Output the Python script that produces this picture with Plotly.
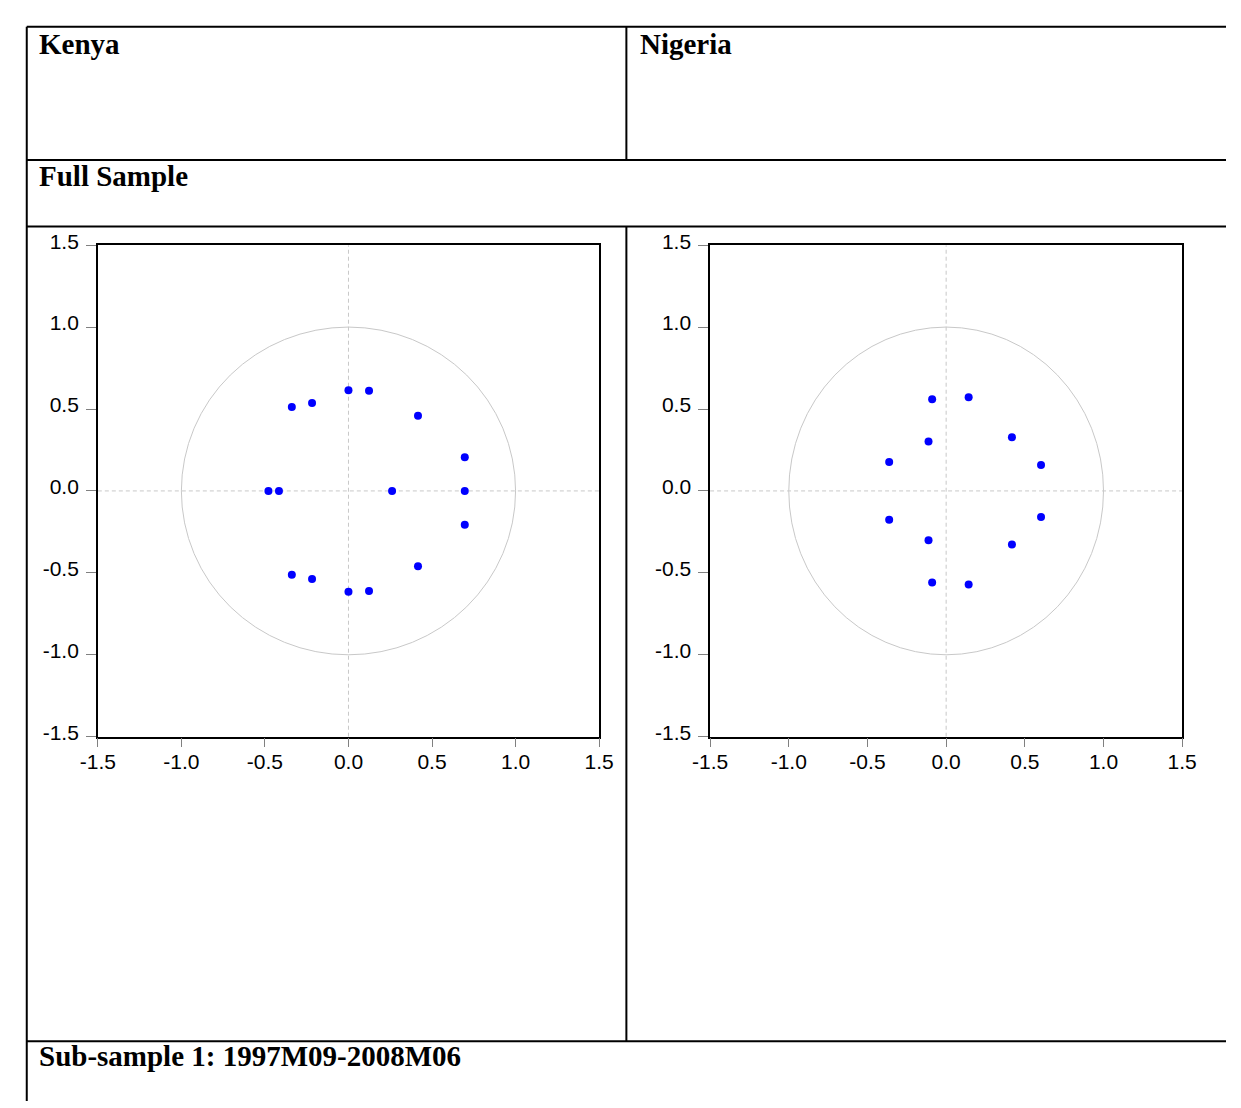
import plotly.graph_objects as go

# ---- data (inverse roots of AR characteristic polynomial) ----
kenya_real = [0.0, 0.0, 0.123, 0.123, -0.339, -0.339, -0.218, -0.218,
              0.416, 0.416, 0.696, 0.696, -0.479, -0.416, 0.261, 0.696]
kenya_imag = [0.615, -0.615, 0.611, -0.611, 0.512, -0.512, 0.537, -0.537,
              0.459, -0.459, 0.206, -0.206, 0.0, 0.0, 0.0, 0.0]

nigeria_real = [-0.089, -0.089, 0.143, 0.143, -0.112, -0.112,
                0.418, 0.418, -0.362, -0.362, 0.603, 0.603]
nigeria_imag = [0.559, -0.559, 0.571, -0.571, 0.301, -0.301,
                0.327, -0.327, 0.176, -0.176, 0.159, -0.159]

tick_vals = [-1.5, -1.0, -0.5, 0.0, 0.5, 1.0, 1.5]
tick_labels = ["-1.5", "-1.0", "-0.5", "0.0", "0.5", "1.0", "1.5"]
axis_range = [-1.5, 1.5]
unit_radius = 1.0

panel_titles = ["Kenya", "Nigeria"]
row_titles = ["Full Sample", "Sub-sample 1: 1997M09-2008M06"]

# ---- layout geometry (window pixels) ----
W, H = 1241, 1108
def px_x(v):
    return v / W
def px_y(v):
    return 1 - v / H

fig = go.Figure()

panels = [
    (kenya_real, kenya_imag, "x", "y", (82, 597)),
    (nigeria_real, nigeria_imag, "x2", "y2", (711, 1196)),
]

grey = "#c8c8c8"
for re, im, xa, ya, _ in panels:
    fig.add_trace(go.Scatter(x=axis_range, y=[0, 0], mode="lines",
                             line=dict(color=grey, width=1, dash="4px,3px"),
                             hoverinfo="skip", showlegend=False, xaxis=xa, yaxis=ya))
    fig.add_trace(go.Scatter(x=[0, 0], y=axis_range, mode="lines",
                             line=dict(color=grey, width=1, dash="4px,3px"),
                             hoverinfo="skip", showlegend=False, xaxis=xa, yaxis=ya))
    fig.add_shape(type="circle", xref=xa, yref=ya,
                  x0=-unit_radius, x1=unit_radius, y0=-unit_radius, y1=unit_radius,
                  line=dict(color=grey, width=1), layer="below")
    fig.add_trace(go.Scatter(x=re, y=im, mode="markers",
                             marker=dict(color="#0000ff", size=8),
                             showlegend=False, xaxis=xa, yaxis=ya))

axis_common = dict(
    range=axis_range, tickvals=tick_vals, ticktext=tick_labels,
    showline=True, mirror=True, linecolor="black", linewidth=1.5,
    showgrid=False, zeroline=False, ticks="outside", tickcolor="#808080",
    tickfont=dict(family="Liberation Sans, Arial", size=21, color="black"),
)

y0, y1 = px_y(736), px_y(234)
layout_axes = {}
for i, (_, _, xa, ya, (l, r)) in enumerate(panels):
    xname = "xaxis" if i == 0 else "xaxis2"
    yname = "yaxis" if i == 0 else "yaxis2"
    layout_axes[xname] = dict(axis_common, domain=[px_x(l), px_x(r)],
                              anchor=ya, ticklen=9, ticklabelstandoff=-4)
    layout_axes[yname] = dict(axis_common, domain=[y0, y1], anchor=xa,
                              ticklen=10, ticklabelshift=-4, ticklabelstandoff=3)

fig.update_layout(
    width=W, height=H, margin=dict(l=0, r=0, t=0, b=0),
    paper_bgcolor="white", plot_bgcolor="white",
    **layout_axes,
)

# ---- table borders ----
border = dict(color="black", width=2)
lines = [
    (9, 11, W, 11),        # top
    (9, 11, 9, H),         # left
    (625, 11, 625, 147),   # divider top row
    (625, 215, 625, 1047), # divider chart row
    (9, 147, W, 147),
    (9, 215, W, 215),
    (9, 1047, W, 1047),
]
for xa0, ya0, xa1, ya1 in lines:
    fig.add_shape(type="line", xref="paper", yref="paper",
                  x0=px_x(xa0), y0=px_y(ya0), x1=px_x(xa1), y1=px_y(ya1),
                  line=border, layer="above")

title_font = dict(family="Liberation Serif, Times New Roman", size=29, color="black")
texts = [
    (panel_titles[0], 20, 29),
    (panel_titles[1], 637, 29),
    (row_titles[0], 20, 163),
    (row_titles[1], 20, 1062),
]
for t, x, y in texts:
    fig.add_annotation(text="<b>" + t + "</b>", xref="paper", yref="paper",
                       x=px_x(x), y=px_y(y), xanchor="left", yanchor="middle",
                       showarrow=False, font=title_font)

fig.write_html("out.html")
